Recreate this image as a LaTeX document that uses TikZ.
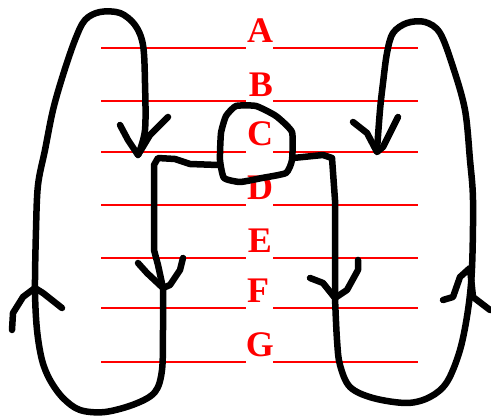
\documentclass[tikz,border=0pt]{standalone}
\usepackage{fontspec}
\setmainfont{Liberation Serif}
\begin{document}
\begin{tikzpicture}[x=1pt,y=-1pt,
  blk/.style={line width=6.5pt, line cap=round, line join=round, black},
  redl/.style={red, line width=1.8pt},
  lbl/.style={anchor=base, text=red, font=\fontsize{36}{36}\selectfont\bfseries, inner sep=0pt}]
\useasboundingbox (0,0) rectangle (491,417);
% red guide lines
\foreach \yy in {48,101,152,205,258,308,362}{
  \draw[redl] (101,\yy) -- (246,\yy);
  \draw[redl] (273,\yy) -- (418,\yy);
}
% letters
\node[lbl] (A) at (260,43) {A};
\node[lbl] (B) at (261,97) {B};
\node[lbl] (C) at (260,146) {C};
\node[lbl] (D) at (260,200) {D};
\node[lbl] (E) at (260,253) {E};
\node[lbl] (F) at (258,303) {F};
\node[lbl] (G) at (260,357) {G};
% blob around C
\draw[blk] plot[smooth cycle, tension=0.3] coordinates {(226,116) (236,106) (256,106) (276,116) (292,132) (292,160) (286,173) (262,178) (240,182) (224,178) (220,160) (221,133)};
% left outer loop
\draw[blk] plot[smooth, tension=0.55] coordinates {(138,155) (145,130) (145,83) (143,45) (135,25) (120,13) (100,12) (85,20) (75,40) (63,75) (53,110) (45,150) (38,185) (36,230) (35,290) (37,330) (42,360) (50,380) (63,398) (80,410) (105,412) (135,404) (155,392) (162,370) (163,330) (163,288)};
% left stem to blob
\draw[blk] (163,288) -- (158,265) -- (154,250) -- (154,165) -- (158,158) -- (175,159) -- (190,164) -- (218,165);
% left arrowheads
\draw[blk] (120,125) -- (128,140) -- (138,155) -- (150,135) -- (168,117);
\draw[blk] (12,330) -- (13,313) -- (23,297) -- (35,288) -- (43,293) -- (62,308);
\draw[blk] (138,263) -- (147,273) -- (163,288) -- (170,285) -- (180,270) -- (183,258);
% right stem from blob
\draw[blk] (293,158) -- (323,155) -- (332,158) -- (335,200) -- (335,298);
% right outer loop
\draw[blk] plot[smooth, tension=0.55] coordinates {(335,298) (337,340) (340,365) (350,387) (373,398) (407,403) (430,397) (447,382) (460,350) (468,310) (472,268) (473,200) (470,160) (465,110) (453,67) (440,33) (425,22) (407,23) (393,33) (387,53) (383,83) (380,110) (377,150)};
% right arrowheads
\draw[blk] (353,122) -- (367,133) -- (377,152) -- (383,147) -- (393,127) -- (398,117);
\draw[blk] (310,278) -- (323,283) -- (335,298) -- (347,290) -- (358,270) -- (358,260);
\draw[blk] (443,300) -- (453,297) -- (460,277) -- (470,268) -- (473,297) -- (490,310);
\end{tikzpicture}
\end{document}
